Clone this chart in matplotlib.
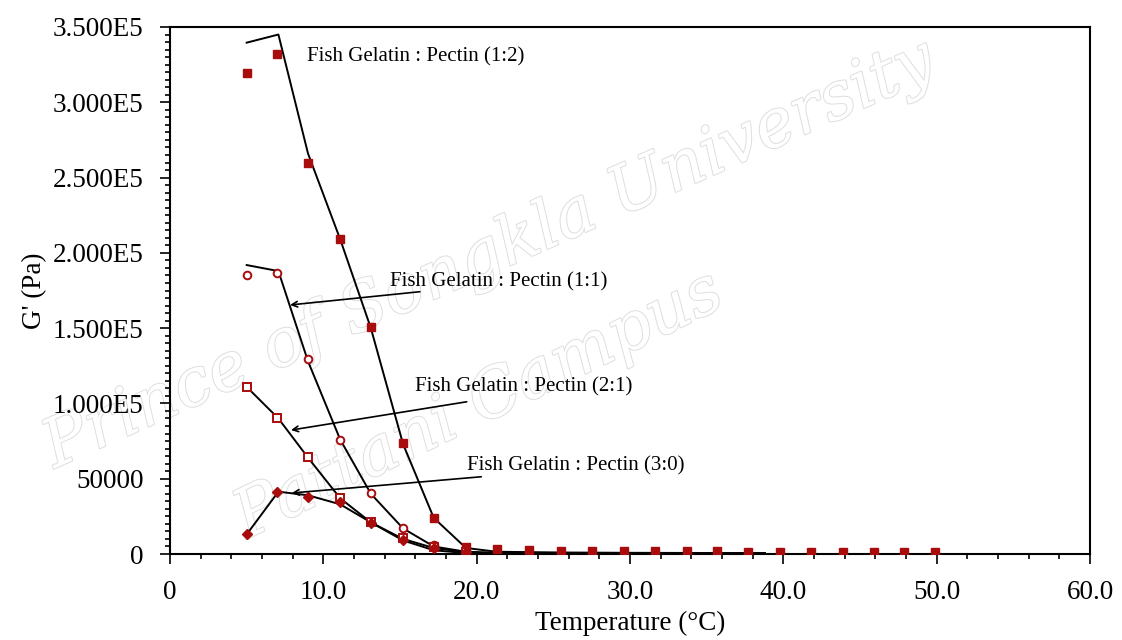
import matplotlib
matplotlib.use("Agg")
import matplotlib.pyplot as plt
import matplotlib.patheffects as pe
from matplotlib.ticker import MultipleLocator, FixedLocator, FixedFormatter

plt.rcParams['font.family'] = ['Liberation Serif', 'DejaVu Serif']

# measured temperatures (°C)
temps = [5.0, 7.0, 9.0, 11.1, 13.1, 15.2, 17.2, 19.3, 21.3, 23.4, 25.5, 27.5,
         29.6, 31.6, 33.7, 35.7, 37.7, 39.8, 41.8, 43.9, 45.9, 47.9, 49.9]

# G' data points (Pa)
g_12 = [319600, 332000, 259400, 209200, 150700, 73700, 23900, 4500, 3000, 2500,
        2200, 2000, 1900, 1800, 1700, 1700, 1600, 1600, 1600, 1500, 1500, 1500, 1500]
g_11 = [185300, 186800, 129500, 75700, 40500, 17000, 6000, 2000]
g_21 = [111100, 90100, 64600, 37000, 21500, 10400, 4900, 1500]
g_30 = [13100, 41400, 38000, 34700, 20400, 9300, 4000, 1200]

# model curves
fit_temp = [5.0, 7.07, 9.0, 11.1, 13.1, 15.2, 17.2, 19.3, 21.3, 25.5, 29.6, 33.7, 38.8]
fit_12 = [339600, 345000, 266000, 209000, 150000, 73000, 24000, 4000, 1500, 1000, 800, 700, 600]
fit_11 = [191900, 187900, 128000, 76000, 40000, 17000, 5000, 1500, 800, 600, 500, 400, 400]
fit_21 = [111000, 90000, 64000, 37000, 21000, 10000, 4000, 1200, 600, 500, 400, 400, 400]
fit_30 = [13000, 41400, 39000, 33000, 21000, 9000, 2500, 600, 400, 300, 300, 300, 300]

labels = ["Fish Gelatin : Pectin (1:2)", "Fish Gelatin : Pectin (1:1)",
          "Fish Gelatin : Pectin (2:1)", "Fish Gelatin : Pectin (3:0)"]
label_xy = [(8.93, 330000), (14.35, 180600), (15.98, 110900), (19.37, 58400)]
arrow_tail = [None, (16.3, 174200), (19.35, 101100), (20.3, 51300)]
arrow_head = [None, (7.83, 165400), (7.89, 82300), (7.94, 40500)]

yticks = [0, 50000, 100000, 150000, 200000, 250000, 300000, 350000]
yticklabels = ["0", "50000", "1.000E5", "1.500E5", "2.000E5", "2.500E5", "3.000E5", "3.500E5"]
xticks = [0, 10, 20, 30, 40, 50, 60]
xticklabels = ["0", "10.0", "20.0", "30.0", "40.0", "50.0", "60.0"]

fig = plt.figure(figsize=(11.22, 6.4), dpi=100)

# watermark on a background layer
bg = fig.add_axes([0, 0, 1, 1], zorder=0)
bg.axis('off')
wm = dict(fontsize=48, style='italic', color='white', family=['DejaVu Serif'],
          transform=bg.transAxes,
          path_effects=[pe.withStroke(linewidth=1.4, foreground='#dedede')])
bg.text(0.03, 0.27, "Prince of Songkla University", rotation=24, **wm)
bg.text(0.20, 0.16, "Pattani Campus", rotation=26, **wm)

ax = fig.add_axes([170 / 1122, 86 / 640, 920 / 1122, 527 / 640], zorder=1)
ax.patch.set_alpha(0)

red = '#a80c0c'
for fy in (fit_12, fit_11, fit_21, fit_30):
    ax.plot(fit_temp, fy, color='black', lw=1.4, zorder=3)

ax.plot(temps, g_12, ls='none', marker='s', ms=5.5, color=red, zorder=4)
ax.plot(temps[:len(g_11)], g_11, ls='none', marker='o', ms=5.5, mfc='white',
        mec=red, mew=1.4, zorder=4)
ax.plot(temps[:len(g_21)], g_21, ls='none', marker='s', ms=5.5, mfc='white',
        mec=red, mew=1.4, zorder=4)
ax.plot(temps[:len(g_30)], g_30, ls='none', marker='D', ms=5.5, color=red, zorder=4)

for i, lab in enumerate(labels):
    ax.text(label_xy[i][0], label_xy[i][1], lab, fontsize=15, va='center',
            ha='left', zorder=5)
    if arrow_tail[i] is not None:
        ax.annotate("", xy=arrow_head[i], xytext=arrow_tail[i],
                    arrowprops=dict(arrowstyle='->', color='black', lw=1.2,
                                    shrinkA=0, shrinkB=0), zorder=5)

ax.set_xlim(0, 60)
ax.set_ylim(0, 350000)
ax.xaxis.set_major_locator(FixedLocator(xticks))
ax.xaxis.set_major_formatter(FixedFormatter(xticklabels))
ax.yaxis.set_major_locator(FixedLocator(yticks))
ax.yaxis.set_major_formatter(FixedFormatter(yticklabels))
ax.xaxis.set_minor_locator(MultipleLocator(2))
ax.yaxis.set_minor_locator(MultipleLocator(5000))
ax.tick_params(which='both', direction='out', top=False, right=False,
               labelsize=19.5, width=1.2)
ax.tick_params(which='major', length=7, pad=12)
ax.tick_params(which='minor', length=3.5)
for s in ax.spines.values():
    s.set_linewidth(1.5)

ax.set_xlabel("Temperature (°C)", fontsize=19.5, labelpad=4)
ax.set_ylabel("G' (Pa)", fontsize=19.5, labelpad=4)

fig.savefig("out.png", dpi=100)
